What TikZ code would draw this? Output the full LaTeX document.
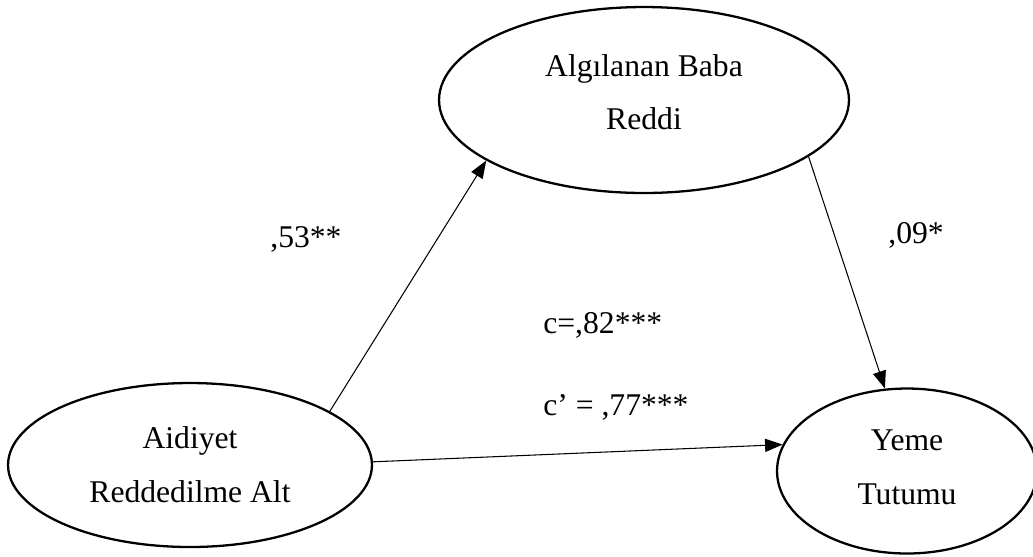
\documentclass[tikz,border=0pt]{standalone}
\usepackage{fontspec}
\setmainfont{Liberation Serif}
\usepackage{tikz}
\usetikzlibrary{shapes, arrows.meta, positioning, calc}

\begin{document}
\begin{tikzpicture}[x=0.02cm, y=-0.02cm,
        var/.style={ellipse, draw, line width=1.3pt, align=center,
            font=\fontsize{18}{30.6}\selectfont},
        path/.style={line width=0.6pt, -{Triangle[length=10pt, width=7.5pt]}},
        coef/.style={anchor=base west, inner sep=0pt,
            font=\fontsize{18}{20}\selectfont}]
            \useasboundingbox (0,0) rectangle (1033,556);

            \coordinate (M) at (644,100);
            \coordinate (X) at (190,465);
            \coordinate (Y) at (907,471);

            \node[var, minimum width=8.2cm, minimum height=3.72cm] (baba) at (M)
                {Algılanan Baba\\Reddi\rule[-9pt]{0pt}{0pt}};
            \node[var, minimum width=7.28cm, minimum height=3.28cm] (aidiyet) at (X)
                {Aidiyet\\Reddedilme Alt};
            \node[var, minimum width=5.2cm, minimum height=3.3cm] (yeme) at (Y)
                {Yeme\\Tutumu\rule[-4pt]{0pt}{0pt}};

            \draw[path] (aidiyet.21.7) -- (baba.201.9);% a yolu
            \draw[path] (baba.341.8) -- (yeme.105.2);% b yolu
            \draw[path] (aidiyet.1.9) -- (yeme.168.5);% c yolu

            \node[coef] (a) at (270,247) {,53**};
            \node[coef] (b) at (888,243) {,09*};
            \node[coef] (c) at (543,333) {c=,82***};
            \node[coef] (cp) at (543,415) {c’ = ,77***};
        \end{tikzpicture}
\end{document}
